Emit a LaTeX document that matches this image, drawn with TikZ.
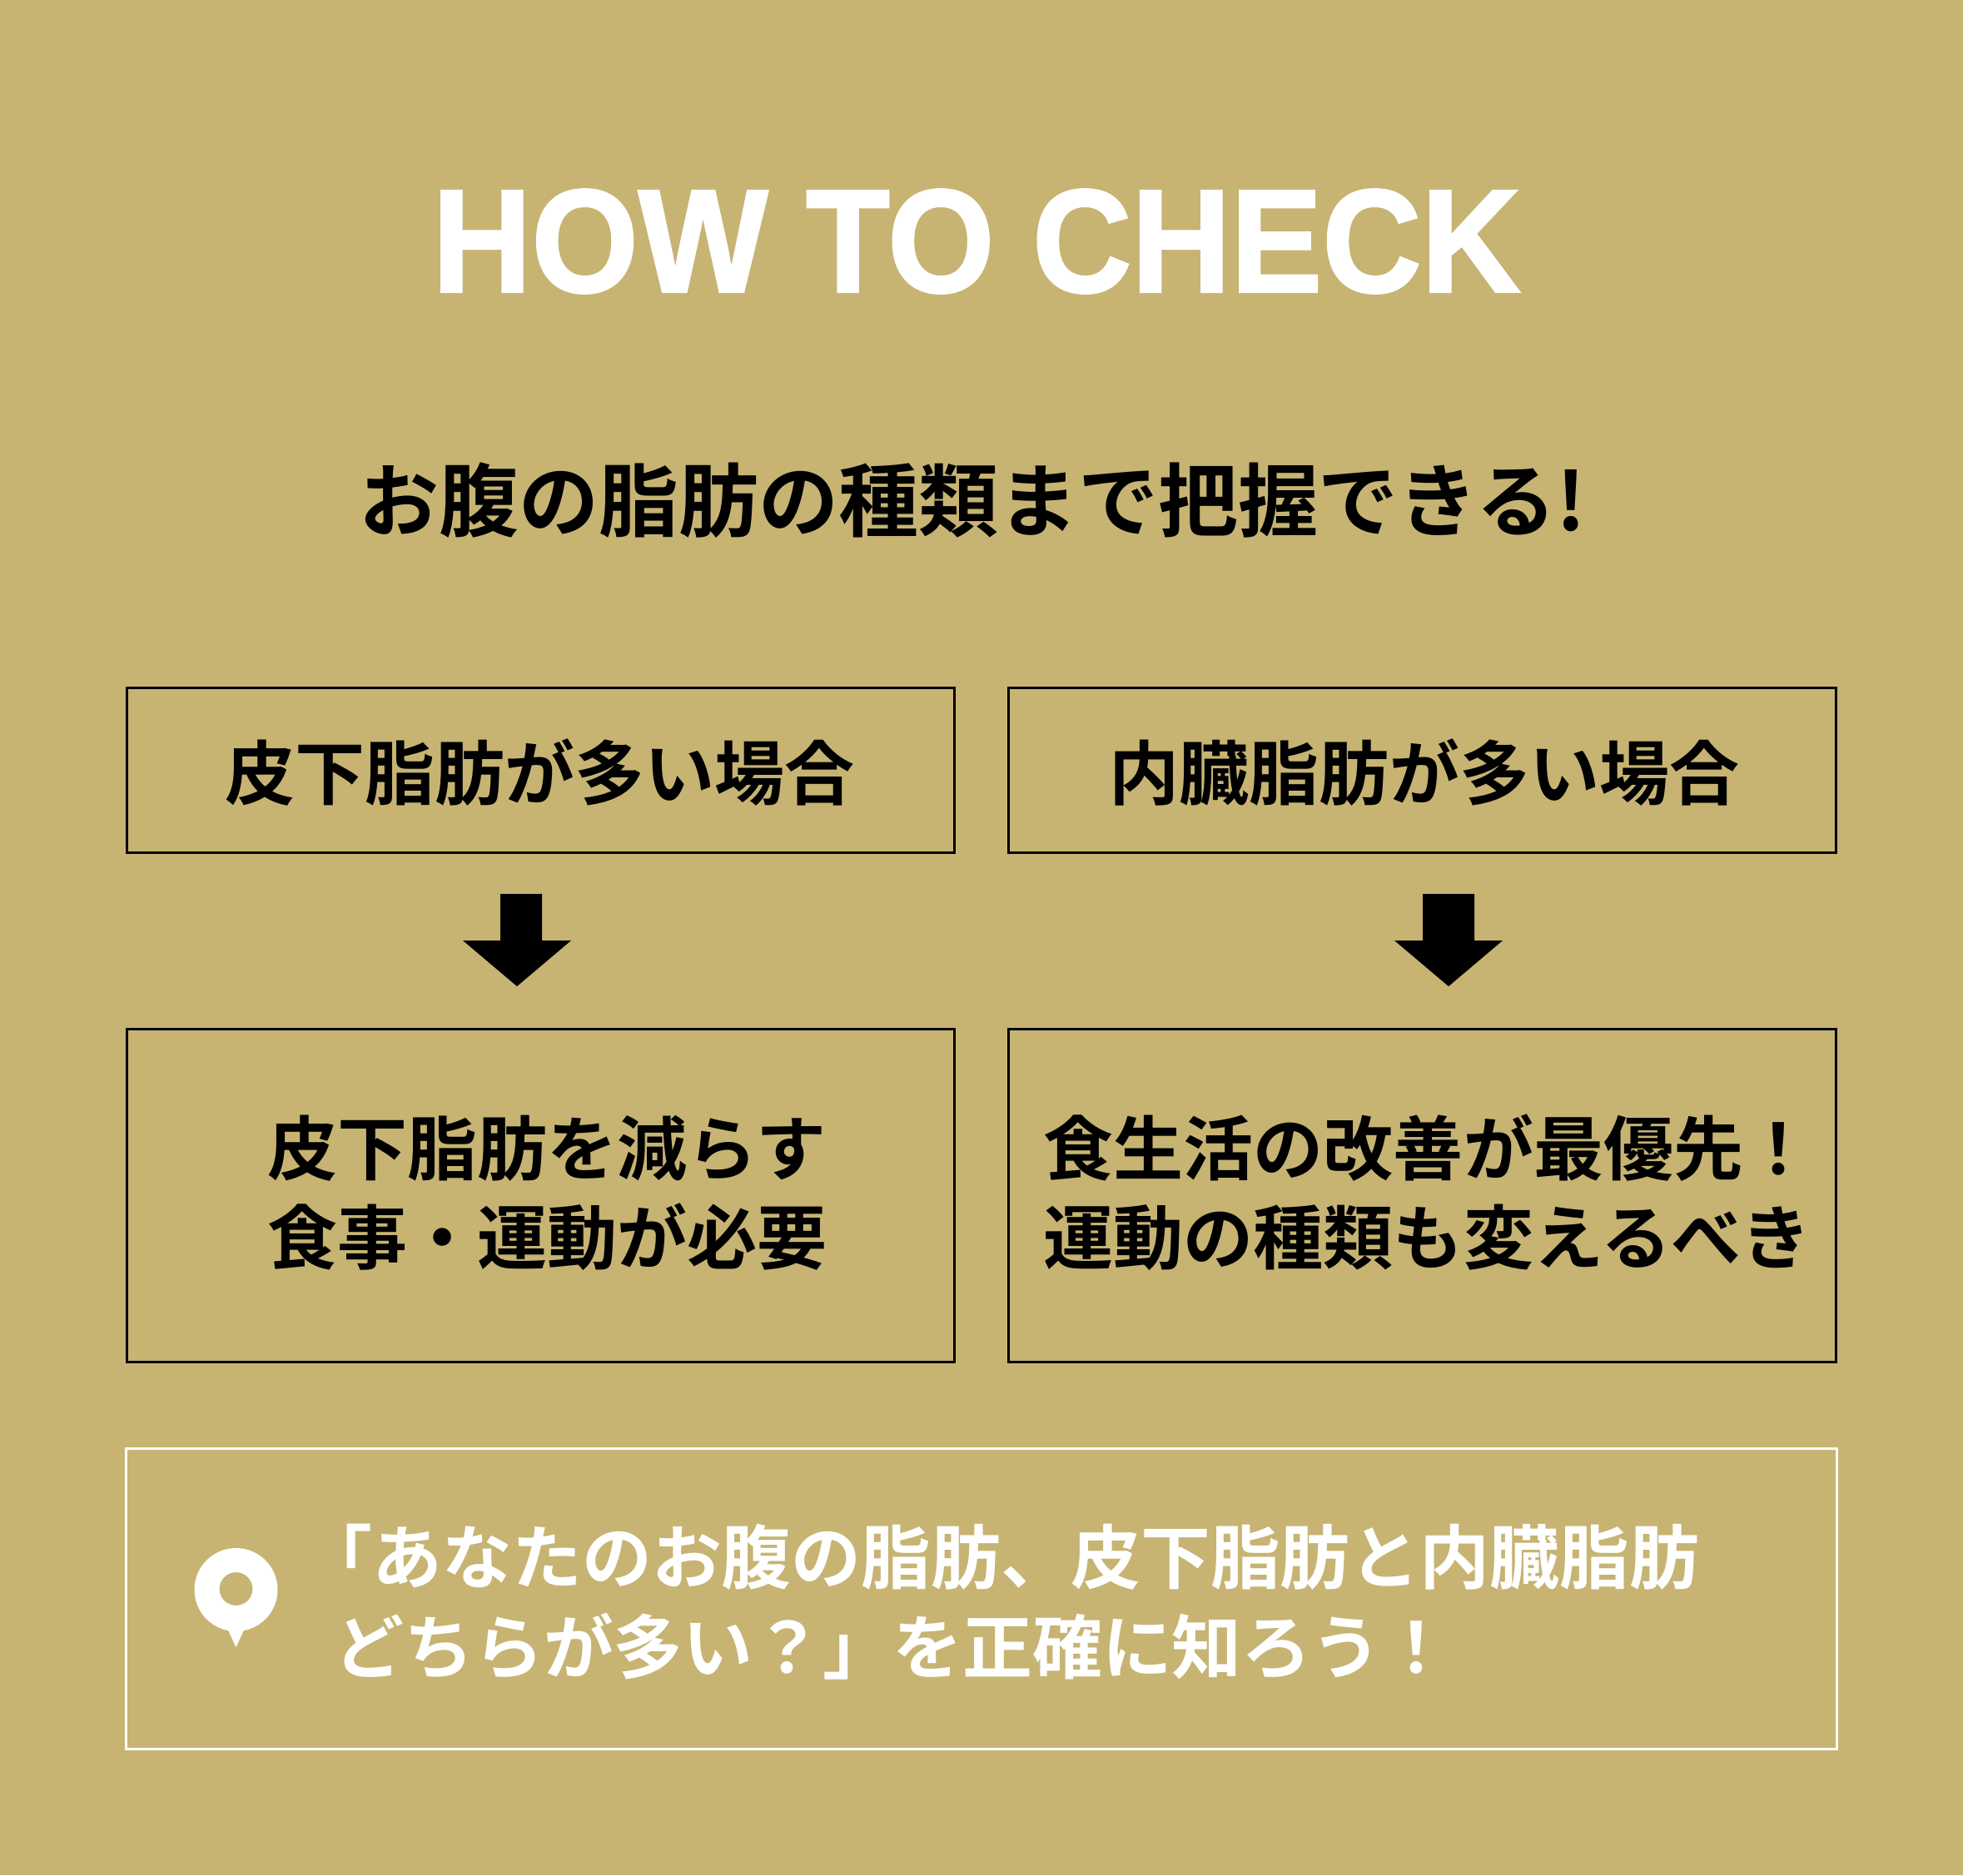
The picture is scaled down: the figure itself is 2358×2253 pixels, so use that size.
\documentclass[tikz,border=0pt]{standalone}
\usepackage{fontspec}
\setmainfont{Noto Sans CJK JP Bold}
\newfontfamily\titlefont{Liberation Sans Bold}[FakeBold=1.6]
\definecolor{bggold}{HTML}{C7B473}
\tikzset{
  headbox/.style={draw=black,line width=0.85pt,minimum width=9.94cm,minimum height=1.97cm,inner sep=0pt},
  bodybox/.style={draw=black,line width=0.85pt,minimum width=9.94cm,minimum height=4cm,inner sep=0pt},
  headtext/.style={font=\fontsize{23.9}{30}\selectfont},
  bodytext/.style={font=\fontsize{23.9}{30.4}\selectfont,align=left},
}
\begin{document}
\begin{tikzpicture}[x=0.01cm,y=-0.01cm]
  \fill [bggold] (0,0) rectangle (2358,2253);
  \useasboundingbox (0,0) rectangle (2358,2253);
  \node (title) at (1173,290) [text=white,yscale=1.07,transform shape,font=\titlefont\fontsize{46.9}{50}\selectfont] {HOW TO CHECK};
  \node (lead) at (1168,601) [font=\fontsize{27.3}{34}\selectfont] {お腹の脂肪の種類まで把握できる!};
  \node (headL) at (649.5,925.5) [headbox] {};
  \node (headR) at (1708.5,925.5) [headbox] {};
  \node (headLtext) at (648.5,928) [headtext] {皮下脂肪が多い場合};
  \node (headRtext) at (1711,928) [headtext] {内臓脂肪が多い場合};
  \node (bodyL) at (649.5,1436.5) [bodybox] {};
  \node (bodyR) at (1708.5,1436.5) [bodybox] {};
  \node (bodyLtext) at (657.5,1433) [bodytext] {皮下脂肪を減らす\\食事・運動が必要};
  \node (bodyRtext) at (1716,1433) [bodytext] {食生活の改善が最優先！\\運動の種類も変えるべき};
  \fill [black] (601,1074) -- (651,1074) -- (651,1130) -- (686,1130) -- (621,1185) -- (556,1130) -- (601,1130) -- cycle;
  \fill [black] (1709,1074) -- (1771,1074) -- (1771,1130) -- (1805,1130) -- (1740,1185) -- (1675,1130) -- (1709,1130) -- cycle;
  \node (note) at (1179,1921) [draw=white,line width=0.85pt,minimum width=20.53cm,minimum height=3.6cm,inner sep=0pt] {};
  \node (notetext) at (389,1924.5) [anchor=west,text=white,font=\fontsize{23.85}{30.5}\selectfont,align=left] {\hspace{-0.45em}「あなたのお腹の脂肪、皮下脂肪と内臓脂肪\\どちらが多い？」を正確に知ろう！};
  \fill [white,even odd rule] (283.5,1910) circle (50) (283.5,1909) circle (20);
  \fill [white] (270,1950) -- (297,1950) -- (283.5,1979) -- cycle;
\end{tikzpicture}
\end{document}
